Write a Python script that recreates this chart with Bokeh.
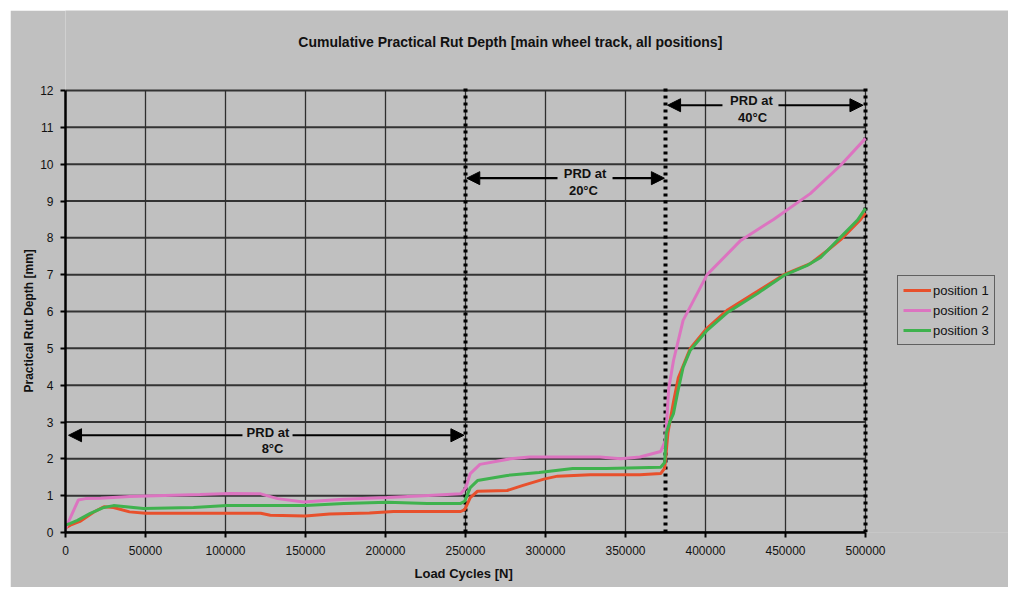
from bokeh.plotting import figure
from bokeh.models import (Range1d, FixedTicker, BasicTickFormatter, Label, Title,
                          Arrow, NormalHead, Legend, LegendItem)
from bokeh.embed import file_html
from bokeh.resources import INLINE

# ---------------- data ----------------
x_pos1 = [0, 3000, 9000, 17500, 24000, 30000, 40000, 50000, 80000, 122000, 128000,
          150000, 165000, 190000, 205000, 247000, 249500, 253000, 257500, 276000,
          286000, 299000, 307500, 328000, 359000, 372000, 374500, 376500, 380000,
          383000, 390500, 401000, 414000, 432500, 449000, 465500, 476000, 484500,
          497000, 500000]
y_pos1 = [0.12, 0.2, 0.3, 0.55, 0.7, 0.68, 0.56, 0.52, 0.52, 0.52, 0.47,
          0.45, 0.5, 0.53, 0.57, 0.57, 0.62, 0.95, 1.12, 1.14,
          1.28, 1.45, 1.53, 1.57, 1.57, 1.6, 1.75, 2.7, 3.55,
          4.2, 5.0, 5.55, 6.05, 6.55, 7.0, 7.3, 7.65, 7.95,
          8.5, 8.67]

x_pos2 = [0, 3000, 8000, 12500, 22000, 40000, 84000, 103000, 122000, 132500,
          148750, 173750, 201000, 224000, 247000, 250000, 253000, 259000, 278000,
          290000, 309000, 334000, 347000, 359000, 372000, 375000, 377000, 380000,
          386000, 401000, 422000, 442500, 465500, 484500, 500000]
y_pos2 = [0.1, 0.4, 0.88, 0.92, 0.93, 0.98, 1.03, 1.06, 1.05, 0.92,
          0.83, 0.9, 0.95, 1.0, 1.05, 1.2, 1.6, 1.85, 2.0,
          2.05, 2.05, 2.05, 2.0, 2.05, 2.2, 2.5, 3.9, 4.67,
          5.76, 7.0, 7.93, 8.5, 9.2, 9.97, 10.7]

x_pos3 = [0, 3000, 7500, 15500, 24000, 30000, 48750, 80000, 101000, 128000,
          150000, 174000, 201000, 226000, 247000, 249500, 253000, 257500, 276000,
          296000, 317000, 338000, 372000, 374500, 375500, 378000, 380000, 382500,
          386000, 390500, 401000, 414000, 432500, 449000, 464000, 472000, 484500,
          495000, 500000]
y_pos3 = [0.2, 0.25, 0.33, 0.52, 0.68, 0.73, 0.65, 0.68, 0.73, 0.73,
          0.73, 0.79, 0.82, 0.79, 0.79, 0.85, 1.22, 1.41, 1.55,
          1.63, 1.74, 1.74, 1.77, 1.9, 2.7, 3.04, 3.23, 3.78,
          4.48, 4.95, 5.49, 5.98, 6.49, 6.98, 7.26, 7.47, 8.02,
          8.48, 8.8]

series_names = ["position 1", "position 2", "position 3"]
series_colors = ["#e8502c", "#dc74c0", "#3fb24e"]

x_ticks = list(range(0, 500001, 50000))
y_ticks = list(range(0, 13))
phase_bounds = [250000, 375000, 500000]

title_text = "Cumulative Practical Rut Depth [main wheel track, all positions]"
x_label = "Load Cycles [N]"
y_label = "Practical Rut Depth [mm]"

# annotations: (line1, line2, x_text1, y_text1, x_text2, y_text2, y_arrow, left_from, left_to, right_from, right_to)
prd_notes = [
    ("PRD at", "8°C", 126500, 2.72, 129400, 2.28, 2.64, 110600, 1900, 141900, 249000),
    ("PRD at", "20°C", 324700, 9.76, 323700, 9.29, 9.62, 307500, 250800, 341900, 374300),
    ("PRD at", "40°C", 428700, 11.74, 429400, 11.28, 11.6, 410600, 376300, 445600, 498400),
]

BG = "#c0c0c0"
X_MAX, Y_MAX = 500000, 12
X_VIEW_END = 589375   # frame extends (invisibly) right to host the legend
Y_VIEW_END = 14.172   # and upwards to host the title

p = figure(width=998, height=577, output_backend="svg", toolbar_location=None,
           x_range=Range1d(0, X_VIEW_END), y_range=Range1d(0, Y_VIEW_END),
           background_fill_color=BG, border_fill_color=BG,
           min_border_left=55, min_border_right=0, min_border_top=0,
           min_border_bottom=55)
p.margin = (10, 10, 4, 10)
p.outline_line_color = None
p.xgrid.grid_line_color = None
p.ygrid.grid_line_color = None

# grid lines drawn over the data region only
p.segment(x0=[0] * len(y_ticks), y0=y_ticks, x1=[X_MAX] * len(y_ticks), y1=y_ticks,
          line_color="#333333", line_width=2)
p.segment(x0=x_ticks[1:], y0=[0] * (len(x_ticks) - 1), x1=x_ticks[1:], y1=[Y_MAX] * (len(x_ticks) - 1),
          line_color="#2e2e2e", line_width=1.3)
# hide the frame-edge seam to the right of the data region
p.segment(x0=[X_MAX + 2000], y0=[0], x1=[X_VIEW_END], y1=[0], line_color=BG, line_width=3)

# axes
for ax in (p.xaxis[0], p.yaxis[0]):
    ax.axis_line_color = "black"
    ax.axis_line_width = 2.5
    ax.major_tick_line_color = "black"
    ax.major_tick_line_width = 2
    ax.major_tick_out = 5
    ax.major_tick_in = 0
    ax.minor_tick_line_color = None
    ax.major_label_text_font = "Liberation Sans"
    ax.major_label_text_font_size = "12px"
    ax.major_label_text_color = "#111111"

p.xaxis.ticker = FixedTicker(ticks=x_ticks)
p.yaxis.ticker = FixedTicker(ticks=y_ticks)
p.xaxis.bounds = (0, X_MAX)
p.yaxis.bounds = (0, Y_MAX)
p.xaxis.formatter = BasicTickFormatter(use_scientific=False)
p.xaxis.major_label_standoff = 8
p.yaxis.major_label_standoff = 7

# axis titles placed in the side panels, shifted to centre on the data region
p.add_layout(Title(text=x_label, align="left", offset=349, standoff=12,
                   text_font="Liberation Sans", text_font_style="bold",
                   text_font_size="13px", text_color="#111111"), "below")
p.add_layout(Title(text=y_label, align="left", offset=140, standoff=4,
                   text_font="Liberation Sans", text_font_style="bold",
                   text_font_size="12px", text_color="#111111"), "left")

# phase boundaries (dotted)
p.segment(x0=phase_bounds, y0=[0] * 3, x1=phase_bounds, y1=[Y_MAX + 0.1] * 3,
          line_color="black", line_width=4, line_dash="3 4")

# series
renderers = []
for xs, ys, c in zip([x_pos1, x_pos2, x_pos3], [y_pos1, y_pos2, y_pos3], series_colors):
    r = p.line(xs, ys, line_color=c, line_width=3)
    renderers.append(r)

# PRD annotations
for (t1, t2, xt1, yt1, xt2, yt2, ya, lf, lt, rf, rt) in prd_notes:
    for txt, xx, yy in ((t1, xt1, yt1), (t2, xt2, yt2)):
        p.add_layout(Label(x=xx, y=yy, text=txt, text_align="center",
                           text_baseline="middle", text_font="Liberation Sans",
                           text_font_style="bold", text_font_size="13px",
                           text_color="#111111"))
    for xs0, xs1 in ((lf, lt), (rf, rt)):
        p.add_layout(Arrow(end=NormalHead(size=13, fill_color="black", line_color="black"),
                           x_start=xs0, y_start=ya, x_end=xs1, y_end=ya,
                           line_color="black", line_width=2.2))

# chart title (inside the extended frame)
p.add_layout(Label(x=278000, y=13.315, text=title_text, text_align="center",
                   text_baseline="middle", text_font="Liberation Sans",
                   text_font_style="bold", text_font_size="14px",
                   text_color="#111111"))

legend = Legend(items=[LegendItem(label=n, renderers=[r]) for n, r in zip(series_names, renderers)],
                location=(832, 187), orientation="vertical",
                background_fill_color=BG, background_fill_alpha=1,
                border_line_color="black", border_line_width=1,
                label_text_font="Liberation Sans", label_text_font_size="13px",
                label_text_color="#111111",
                glyph_width=28, glyph_height=18, label_height=18,
                label_standoff=2, spacing=2, padding=5, margin=0)
p.add_layout(legend)

open("out.html", "w").write(file_html(p, INLINE))
